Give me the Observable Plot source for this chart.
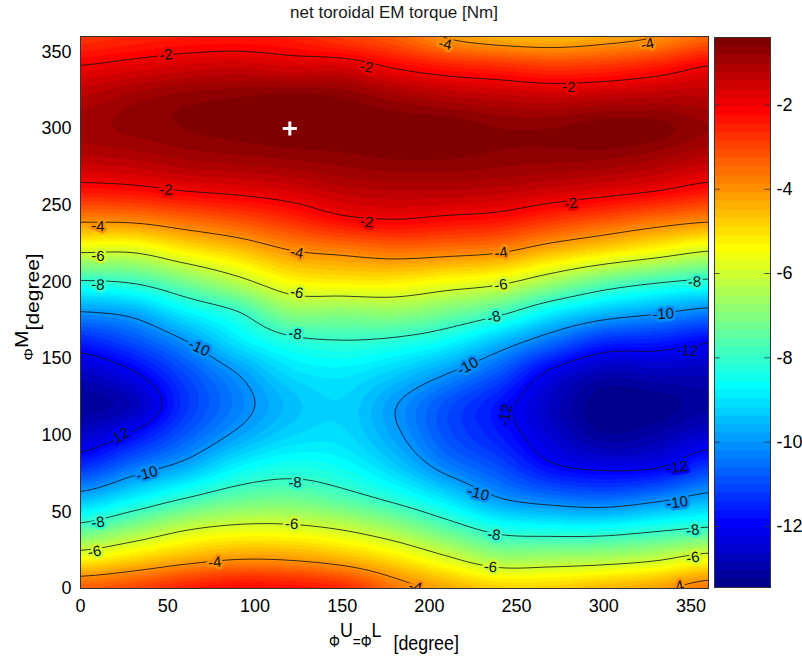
<!DOCTYPE html>
<html>
<head>
<meta charset="utf-8">
<script src="https://cdn.jsdelivr.net/npm/d3@7"></script>
<script src="https://cdn.jsdelivr.net/npm/@observablehq/plot@0.6"></script>
<style>
  html, body { margin: 0; padding: 0; background: #fff; }
  #wrap { position: relative; width: 802px; height: 660px; overflow: hidden; font-family: "Liberation Sans", Arial, Helvetica, sans-serif; color: #000; }
  #main, #cbar { position: absolute; top: 0; }
  #main { left: 0; }
  #cbar { left: 708px; }
  #title { position: absolute; left: 80px; width: 628px; top: 3px; text-align: center; font-size: 17px; color: #1a1a1a; white-space: nowrap; }
  #xlab { position: absolute; left: 80px; width: 628px; top: 621px; height: 38px; line-height: 38px; text-align: center; font-size: 21px; white-space: nowrap; transform: scaleX(.85); }
  #ylab { position: absolute; left: -73px; top: 287px; width: 200px; height: 40px; line-height: 40px; text-align: center; font-size: 21px; white-space: nowrap; transform: rotate(-90deg) scaleY(.85); }
  .phi { font-size: 16px; }
  .sup { position: relative; top: -0.5em; }
  .sub { position: relative; top: 0.15em; }
</style>
</head>
<body>
<div id="wrap">
  <div id="main"></div>
  <div id="cbar"></div>
  <div id="title">net toroidal EM torque [Nm]</div>
  <div id="xlab"><span class="phi">Φ</span><span class="sup">U</span><span class="phi">=Φ</span><span class="sup">L</span><span class="sub" style="margin-left:14px">[degree]</span></div>
  <div id="ylab"><span class="phi">Φ</span><span class="sup" style="top:-0.3em">M</span><span class="sub" style="top:0.35em">[degree]</span></div>
</div>
<script>
// ---- data ----
const phiUL = [0, 30, 60, 90, 120, 150, 180, 210, 240, 270, 300, 330, 360];   // x grid (degree)
const phiM  = [0, 20, 40, 60, 80, 100, 120, 140, 160, 180, 200, 220, 240, 260, 280, 300, 320, 340, 360]; // y grid (degree)
// torque[row for phiM][column for phiUL]  (Nm)
const torque = [
  [-3.3, -3.0, -2.5, -2.2, -2.3, -2.6, -3.6, -4.3, -4.8, -4.8, -4.5, -4.2, -3.6],
  [-5.45, -4.95, -4.43, -4.1, -4.15, -4.5, -5.1, -5.9, -6.64, -6.6, -6.5, -6.2, -5.65],
  [-7.7, -6.95, -6.2, -5.85, -5.85, -6.15, -6.75, -7.6, -8.4, -8.6, -8.6, -8.3, -8.0],
  [-9.7, -8.9, -8.1, -7.5, -7.35, -7.7, -8.3, -9.1, -10.05, -10.5, -10.7, -10.35, -9.8],
  [-11.4, -10.5, -9.75, -8.8, -8.4, -8.6, -9.3, -10.3, -11.0, -11.9, -12.2, -12.1, -11.3],
  [-12.6, -11.85, -10.8, -9.85, -9.2, -9.1, -9.85, -10.9, -11.6, -12.5, -13.2, -13.0, -12.5],
  [-13.2, -12.8, -11.3, -10.3, -9.5, -9.2, -9.95, -10.9, -11.7, -12.7, -13.45, -13.4, -13.1],
  [-12.7, -12.1, -11.0, -10.0, -9.1, -8.9, -9.3, -10.0, -10.9, -12.2, -12.9, -12.8, -12.8],
  [-11.6, -11.0, -10.1, -9.0, -8.3, -8.1, -8.25, -8.7, -9.6, -10.6, -11.5, -11.65, -12.0],
  [-10.05, -9.75, -8.8, -8.05, -6.9, -6.9, -6.8, -7.2, -7.8, -8.8, -9.5, -9.9, -10.3],
  [-8.1, -7.9, -7.15, -6.3, -5.4, -5.2, -5.2, -5.5, -5.8, -6.6, -7.4, -7.9, -8.2],
  [-5.9, -5.9, -5.25, -4.7, -4.05, -3.8, -3.6, -3.7, -3.9, -4.5, -5.0, -5.5, -6.0],
  [-3.9, -3.85, -3.5, -3.15, -2.7, -2.2, -2.05, -2.2, -2.35, -2.8, -3.2, -3.6, -3.9],
  [-2.3, -2.2, -1.95, -1.8, -1.6, -1.3, -1.2, -1.2, -1.3, -1.5, -1.7, -1.95, -2.3],
  [-1.3, -1.2, -1.0, -0.9, -0.8, -0.7, -0.6, -0.6, -0.7, -0.75, -0.8, -1.0, -1.3],
  [-0.9, -0.75, -0.6, -0.5, -0.4, -0.4, -0.4, -0.4, -0.6, -0.6, -0.45, -0.5, -0.8],
  [-1.2, -0.9, -0.7, -0.6, -0.5, -0.6, -0.9, -1.15, -1.3, -1.4, -1.3, -1.2, -1.2],
  [-1.95, -1.75, -1.55, -1.45, -1.6, -1.6, -2.05, -2.4, -2.6, -2.8, -2.7, -2.4, -1.95],
  [-2.8, -2.6, -2.45, -2.4, -2.5, -2.9, -3.3, -4.05, -4.4, -4.5, -4.3, -4.0, -3.4]
];
const contourLevels = [-12, -10, -8, -6, -4, -2];
const axisTicks = [0, 50, 100, 150, 200, 250, 300, 350];
const colorTicks = [-12, -10, -8, -6, -4, -2];
const colorDomain = [-13.45, -0.4];
// contour labels (data coordinates, level, angle)
const labelX = [49,164,49,164,10,10,10,124,124,209,325,280,281,241,241,352,334,123,68,22,38,123,10,121,8,77,237,222,348,244,228,342,342,237,351,235,351,192,342];
const labelY = [348,340,260,239,236,217,198,219,193,355,355,327,251,219,198,200,179,166,157,99,75,69,43,42,24,17,177,145,155,113,62,79,56,35,38,14,20,1,1];
const labelLevel = [-2,-2,-2,-2,-4,-6,-8,-4,-6,-4,-4,-2,-2,-4,-6,-8,-10,-8,-10,-12,-10,-8,-8,-6,-6,-4,-8,-10,-12,-12,-10,-12,-10,-8,-8,-6,-6,-4,-4];
const labelAngle = [-8,8,3,6,0,0,3,10,10,12,-12,0,-6,-8,-9,-2,-4,8,25,-30,-15,-2,-8,3,-10,-5,-14,-28,3,-80,15,-8,-8,8,-8,5,-10,15,-15];
const markerX = [120];
const markerY = [300];

// ---- tables built from the arrays ----
const points = phiM.flatMap((yv, r) => phiUL.map((xv, c) => ({x: xv, y: yv, v: torque[r][c]})));
const labels = labelLevel.map((v, i) => ({x: labelX[i], y: labelY[i], v, text: String(v), angle: labelAngle[i]}));
const marker = markerX.map((x, i) => ({x, y: markerY[i]}));

// MATLAB jet(64)
function jet(i) {
  const t = (i + 1) / 64;
  const c = (v) => Math.round(255 * Math.max(0, Math.min(1, v)));
  return `rgb(${c(1.5 - Math.abs(4 * t - 3))},${c(1.5 - Math.abs(4 * t - 2))},${c(1.5 - Math.abs(4 * t - 1))})`;
}
const colorOpts = {
  type: "linear", domain: colorDomain, clamp: true,
  interpolate: (t) => jet(Math.max(0, Math.min(63, Math.floor(t * 64))))
};

// bicubic (Catmull-Rom) spatial interpolator over the regular sample grid
function bicubic(index, w, h, X, Y, V) {
  const nc = phiUL.length, nr = phiM.length;
  let xmin = Infinity, xmax = -Infinity, ymin = Infinity, ymax = -Infinity;
  for (const i of index) {
    if (X[i] < xmin) xmin = X[i]; if (X[i] > xmax) xmax = X[i];
    if (Y[i] < ymin) ymin = Y[i]; if (Y[i] > ymax) ymax = Y[i];
  }
  const G = Array.from({length: nr}, () => new Float64Array(nc));
  for (const i of index) {
    const c = Math.round((X[i] - xmin) / (xmax - xmin) * (nc - 1));
    const r = Math.round((Y[i] - ymin) / (ymax - ymin) * (nr - 1));
    G[r][c] = +V[i];
  }
  const get = (r, c) => G[Math.max(0, Math.min(nr - 1, r))][Math.max(0, Math.min(nc - 1, c))];
  const cr = (p0, p1, p2, p3, t) => p1 + 0.5 * t * (p2 - p0 + t * (2 * p0 - 5 * p1 + 4 * p2 - p3 + t * (3 * (p1 - p2) + p3 - p0)));
  const out = new Array(w * h);
  for (let j = 0; j < h; j++) {
    const gy = Math.max(0, Math.min(nr - 1, (j + 0.5 - ymin) / (ymax - ymin) * (nr - 1)));
    const r = Math.min(nr - 2, Math.floor(gy)), ty = gy - r;
    for (let i = 0; i < w; i++) {
      const gx = Math.max(0, Math.min(nc - 1, (i + 0.5 - xmin) / (xmax - xmin) * (nc - 1)));
      const c = Math.min(nc - 2, Math.floor(gx)), tx = gx - c;
      const q = [];
      for (let k = -1; k <= 2; k++) q.push(cr(get(r + k, c - 1), get(r + k, c), get(r + k, c + 1), get(r + k, c + 2), tx));
      out[j * w + i] = cr(q[0], q[1], q[2], q[3], ty);
    }
  }
  return out;
}

const fontFamily = '"Liberation Sans", Arial, Helvetica, sans-serif';

const main = Plot.plot({
  width: 712, height: 660,
  marginLeft: 80, marginRight: 4, marginTop: 36, marginBottom: 72,
  style: {fontFamily, fontSize: "18px", color: "#000", background: "transparent", overflow: "visible"},
  x: {domain: [0, 360], ticks: axisTicks, tickSize: 0, tickPadding: 11, label: null},
  y: {domain: [0, 360], ticks: axisTicks, tickSize: 0, tickPadding: 9, label: null},
  color: colorOpts,
  marks: [
    Plot.raster(points, {x: "x", y: "y", fill: "v", interpolate: bicubic, pixelSize: 1}),
    Plot.contour(points, {x: "x", y: "y", value: "v", interpolate: bicubic, pixelSize: 1,
      thresholds: contourLevels, fill: "none", stroke: "#111", strokeWidth: 0.8, clip: true}),
    Plot.text(labels, {x: "x", y: "y", text: "text", rotate: "angle", fontSize: 15, fill: "#111",
      stroke: "v", strokeWidth: 5, paintOrder: "stroke", clip: true}),
    Plot.dot(marker, {x: "x", y: "y", symbol: "plus", r: 4.6, stroke: "white", strokeWidth: 3}),
    Plot.frame({stroke: "#333", strokeWidth: 1})
  ]
});
document.getElementById("main").appendChild(main);

const cbar = Plot.plot({
  width: 94, height: 660,
  marginLeft: 6, marginRight: 32, marginTop: 37, marginBottom: 73,
  style: {fontFamily, fontSize: "18px", color: "#000", background: "transparent", overflow: "visible"},
  x: {domain: [0, 1], axis: null},
  y: {domain: colorDomain, axis: "right", ticks: colorTicks, tickFormat: (d) => String(d), tickSize: 0, tickPadding: 6, label: null},
  color: colorOpts,
  marks: [
    Plot.raster({fill: (x, y) => y, x1: 0, x2: 1, y1: colorDomain[0], y2: colorDomain[1], pixelSize: 1}),
    Plot.ruleY(colorTicks, {x1: 0, x2: 0.1, stroke: "#333", strokeWidth: 0.8}),
    Plot.ruleY(colorTicks, {x1: 0.9, x2: 1, stroke: "#333", strokeWidth: 0.8}),
    Plot.frame({stroke: "#333", strokeWidth: 1})
  ]
});
document.getElementById("cbar").appendChild(cbar);
</script>
</body>
</html>
